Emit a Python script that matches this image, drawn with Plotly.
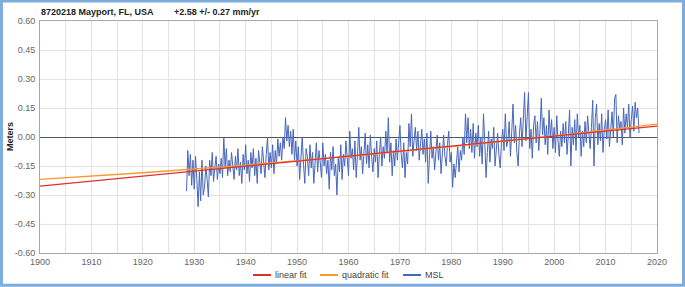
import numpy as np
import plotly.graph_objects as go

# ---- data ----
fit_years = [1900, 1920, 1940, 1960, 1980, 2000, 2020]
linear_fit = [-0.254, -0.202, -0.151, -0.099, -0.048, 0.004, 0.056]
quadratic_fit = [-0.219, -0.185, -0.145, -0.100, -0.050, 0.006, 0.067]

msl_start = 1928.5   # first sample (year), quarterly samples
msl_step = 0.25
msl_1928_1939 = [
    -0.28, -0.07,
    -0.20, -0.09, -0.25, -0.12,
    -0.27, -0.10, -0.22, -0.36,
    -0.18, -0.33, -0.12, -0.30,
    -0.26, -0.15, -0.22, -0.31,
    -0.12, -0.20, -0.08, -0.23,
    -0.16, -0.10, -0.22, -0.14,
    -0.19, -0.11, -0.21, 0.00,
    -0.16, -0.06, -0.20, -0.12,
    -0.18, -0.08, -0.15, -0.22,
    -0.10, -0.17, -0.06, -0.20,
    -0.13, -0.24, -0.09, -0.17,
]
msl_1940_1959 = [
    -0.04, -0.19, -0.12, -0.23,
    -0.08, -0.16, -0.06, -0.20,
    -0.11, -0.24, -0.07, -0.15,
    -0.19, -0.05, -0.14, -0.21,
    -0.09, 0.00, -0.17, -0.08,
    -0.16, -0.04, -0.19, -0.07,
    -0.14, -0.01, -0.10, -0.03,
    -0.12, 0.00, -0.06, 0.10,
    -0.02, 0.06, -0.05, 0.03,
    -0.09, 0.04, -0.12, -0.02,
    -0.15, -0.05, -0.22, -0.08,
    0.00, -0.14, -0.24, -0.06,
    -0.10, -0.20, -0.04, -0.16,
    -0.08, -0.24, -0.11, -0.03,
    -0.18, -0.07, -0.13, -0.21,
    -0.03, -0.15, -0.09, -0.19,
    -0.12, -0.27, -0.08, -0.17,
    -0.05, -0.20, -0.14, -0.30,
    -0.11, -0.18, -0.04, -0.22,
    -0.09, -0.15, -0.02, -0.13,
]
msl_1960_1979 = [
    -0.20, 0.03, -0.11, -0.06,
    -0.17, -0.02, -0.21, -0.09,
    0.05, -0.12, -0.05, -0.19,
    -0.08, 0.02, -0.14, -0.04,
    -0.16, 0.01, -0.10, -0.18,
    -0.06, -0.13, -0.02, -0.21,
    -0.09, 0.00, -0.15, -0.05,
    -0.11, 0.03, -0.08, 0.10,
    -0.13, -0.03, -0.20, -0.07,
    -0.15, -0.01, -0.12, -0.04,
    0.06, -0.09, -0.16, -0.03,
    -0.21, -0.08, -0.14, 0.07,
    -0.05, 0.12, -0.10, -0.02,
    0.05, -0.07, 0.03, -0.12,
    -0.04, 0.04, -0.09, -0.01,
    -0.13, 0.02, -0.24, -0.08,
    0.03, -0.11, -0.05, -0.17,
    -0.07, 0.01, -0.12, -0.03,
    -0.19, -0.06, 0.01, -0.10,
    -0.15, -0.04, 0.03, -0.13,
]
msl_1980_1999 = [
    -0.08, -0.26, -0.14, -0.21,
    -0.10, -0.05, -0.18, -0.07,
    -0.12, 0.00, -0.09, 0.12,
    -0.03, 0.10, -0.06, 0.04,
    -0.08, 0.07, -0.11, 0.02,
    -0.05, 0.06, -0.10, 0.00,
    -0.14, 0.12, -0.02, -0.21,
    -0.08, 0.03, -0.13, -0.01,
    -0.06, 0.05, -0.15, -0.04,
    0.02, -0.09, -0.16, -0.03,
    0.04, -0.07, 0.12, -0.05,
    -0.02, 0.08, -0.10, 0.03,
    0.17, -0.03, 0.06, -0.08,
    -0.15, 0.02, 0.10, -0.05,
    0.08, 0.23, -0.02, 0.12,
    0.23, -0.06, 0.04, -0.11,
    0.06, 0.11, -0.03, 0.08,
    -0.07, 0.04, 0.20, 0.01,
    0.10, -0.04, 0.06, -0.09,
    0.14, 0.00, 0.09, -0.06,
]
msl_2000_2016 = [
    0.05, -0.08, 0.11, -0.02,
    -0.10, 0.03, -0.05, 0.07,
    -0.03, 0.08, -0.09, 0.01,
    0.14, -0.15, 0.05, -0.04,
    0.09, -0.07, 0.12, 0.00,
    0.06, -0.10, 0.03, -0.05,
    0.08, -0.03, 0.11, 0.02,
    -0.06, 0.05, 0.19, -0.15,
    0.10, 0.17, -0.04, 0.07,
    -0.02, 0.12, -0.08, 0.04,
    0.09, -0.01, 0.14, -0.05,
    0.06, 0.13, 0.00, 0.20,
    0.22, -0.03, 0.11, 0.04,
    0.08, -0.04, 0.15, 0.02,
    0.12, 0.05, 0.17, 0.00,
    0.09, 0.16, 0.03, 0.18,
    0.10, 0.15, 0.02,
]
msl = msl_1928_1939 + msl_1940_1959 + msl_1960_1979 + msl_1980_1999 + msl_2000_2016
msl_years = msl_start + msl_step * np.arange(len(msl))

x_tick_years = list(range(1900, 2021, 10))
y_ticks = [-0.60, -0.45, -0.30, -0.15, 0.00, 0.15, 0.30, 0.45, 0.60]

series_names = ["linear fit", "quadratic fit", "MSL"]
series_colors = ["#e0302c", "#f59a2c", "#4866bb"]

W, H = 685, 287
ML, MR, MT, MB = 40, 28, 21, 34
PW, PH = W - ML - MR, H - MT - MB


def px_x(x):
    return (x - ML) / PW


def px_y(y):
    return (H - MB - y) / PH


fig = go.Figure()
fig.add_trace(go.Scatter(x=msl_years, y=msl, mode="lines", name=series_names[2],
                         line=dict(color=series_colors[2], width=1.0)))
fig.add_trace(go.Scatter(x=fit_years, y=quadratic_fit, mode="lines", name=series_names[1],
                         line=dict(color=series_colors[1], width=1.3, shape="spline")))
fig.add_trace(go.Scatter(x=fit_years, y=linear_fit, mode="lines", name=series_names[0],
                         line=dict(color=series_colors[0], width=1.3)))

font = "Liberation Sans, Arial, sans-serif"

annotations = [
    dict(text="<b>8720218 Mayport, FL, USA</b>", xref="paper", yref="paper",
         x=px_x(39), y=px_y(11.5), xanchor="left", yanchor="middle", showarrow=False,
         font=dict(family=font, size=9, color="#222222")),
    dict(text="<b>+2.58 +/- 0.27 mm/yr</b>", xref="paper", yref="paper",
         x=px_x(172), y=px_y(11.5), xanchor="left", yanchor="middle", showarrow=False,
         font=dict(family=font, size=9, color="#222222")),
    dict(text="<b>Meters</b>", xref="paper", yref="paper",
         x=px_x(10), y=0.5, xanchor="center", yanchor="middle", textangle=-90,
         showarrow=False, font=dict(family=font, size=9, color="#222222")),
]
shapes = [
    dict(type="rect", xref="paper", yref="paper", layer="above",
         x0=px_x(1.5), x1=px_x(683.5), y0=px_y(285.2), y1=px_y(1),
         line=dict(color="#7badde", width=3), fillcolor="rgba(0,0,0,0)"),
]

# manual legend (short line samples like the reference)
legend_line_x = [253, 320, 403]
legend_y = 275
for name, color, lx in zip(series_names, series_colors, legend_line_x):
    shapes.append(dict(type="line", xref="paper", yref="paper",
                       x0=px_x(lx), x1=px_x(lx + 18), y0=px_y(legend_y), y1=px_y(legend_y),
                       line=dict(color=color, width=2)))
    annotations.append(dict(text=name, xref="paper", yref="paper",
                            x=px_x(lx + 20), y=px_y(legend_y), xanchor="left", yanchor="middle",
                            showarrow=False, font=dict(family=font, size=9, color="#444444")))

fig.update_layout(
    width=W, height=H,
    margin=dict(l=ML, r=MR, t=MT, b=MB, pad=0),
    paper_bgcolor="white", plot_bgcolor="white",
    font=dict(family=font, size=9, color="#666666"),
    showlegend=False,
    xaxis=dict(range=[1900, 2020], tickvals=x_tick_years, ticktext=[str(v) for v in x_tick_years],
               showgrid=True, gridcolor="#e3e3e3", gridwidth=1,
               minor=dict(dtick=5, tick0=1900, showgrid=True, gridcolor="#e3e3e3", gridwidth=1),
               showline=True, linecolor="#a8a8a8", linewidth=1, mirror=True,
               ticks="", zeroline=False, fixedrange=True, automargin=False,
               tickfont=dict(family=font, size=9, color="#666666")),
    yaxis=dict(range=[-0.6, 0.6], tickvals=y_ticks, ticktext=[f"{v:.2f}" for v in y_ticks],
               showgrid=True, gridcolor="#e3e3e3", gridwidth=1,
               showline=True, linecolor="#a8a8a8", linewidth=1, mirror=True,
               zeroline=True, zerolinecolor="#555555", zerolinewidth=1,
               ticks="", ticklabelstandoff=2, automargin=False, fixedrange=True,
               tickfont=dict(family=font, size=9, color="#666666")),
    annotations=annotations,
    shapes=shapes,
)

fig.write_html("out.html", config={"displayModeBar": False, "staticPlot": True},
               post_script="document.body.style.margin='0';")
